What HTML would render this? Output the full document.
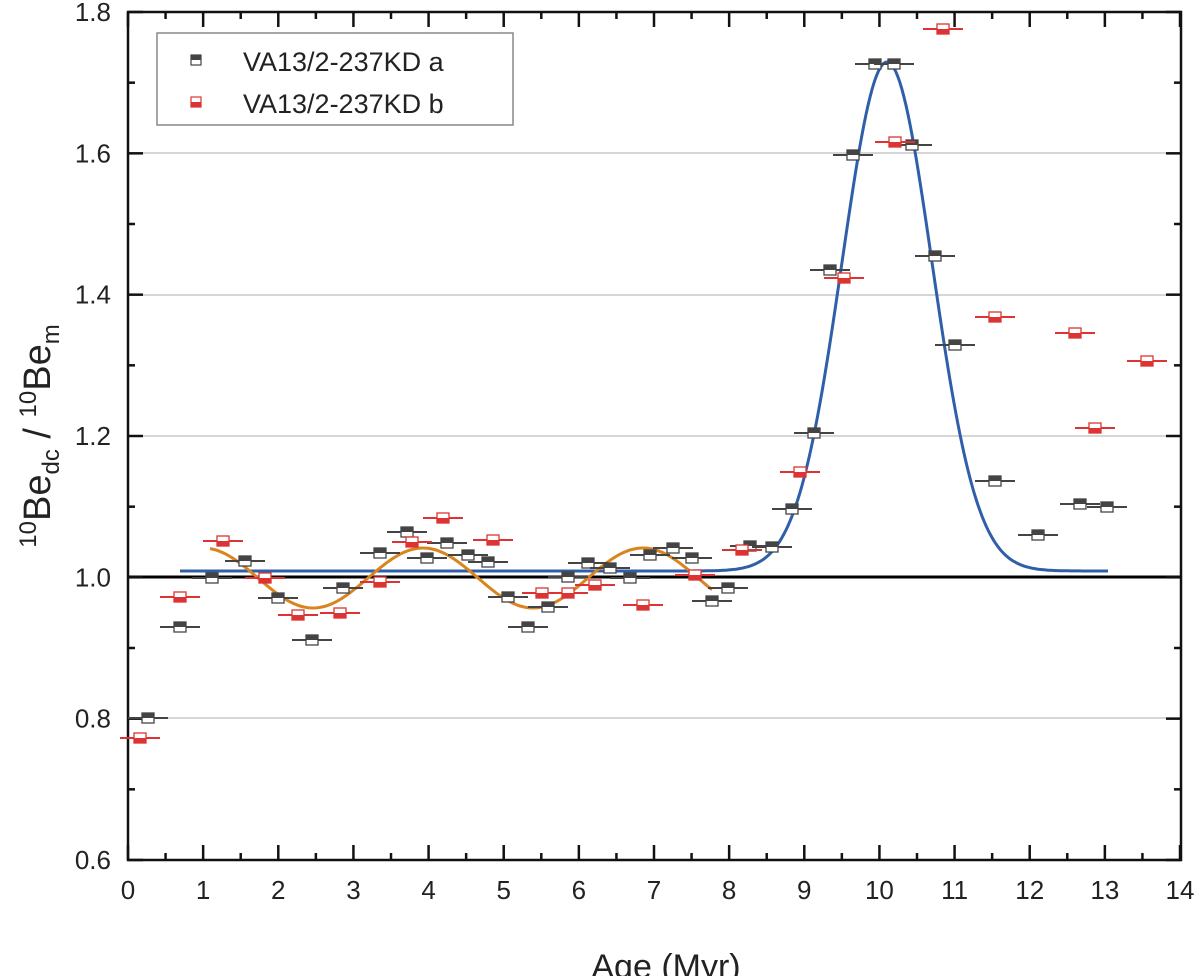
<!DOCTYPE html>
<html><head><meta charset="utf-8"><style>body{margin:0;background:#fff}svg{display:block}text{font-family:"Liberation Sans",Arial,sans-serif}</style></head>
<body>
<svg id="s" width="1200" height="976" viewBox="0 0 1200 976" xmlns="http://www.w3.org/2000/svg">
<g stroke="#c8c8c8" stroke-width="1.5">
<line x1="128" x2="1180" y1="718" y2="718"/><line x1="128" x2="1180" y1="436" y2="436"/>
<line x1="128" x2="1180" y1="295" y2="295"/><line x1="128" x2="1180" y1="153" y2="153"/>
</g>
<line x1="128" x2="1180" y1="577" y2="577" stroke="#000" stroke-width="3"/>
<g id="ticks" stroke="#111" stroke-width="2.5"></g>
<rect x="128" y="12" width="1053" height="848" fill="none" stroke="#111" stroke-width="2.5"/>
<g id="lbl" font-size="26" fill="#222"></g>
<path id="blue" fill="none" stroke="#2f5fa8" stroke-width="3"/>
<path id="orange" fill="none" stroke="#d9841f" stroke-width="3"/>
<g id="pts"></g>
<rect x="157" y="33" width="356" height="92" fill="#fff" stroke="#888" stroke-width="1.5"/>
<rect x="191" y="55" width="10" height="10" fill="#fff" stroke="#444" stroke-width="1.2"/><rect x="191" y="55" width="10" height="5" fill="#444"/>
<rect x="191" y="97" width="10" height="10" fill="#fff" stroke="#d33" stroke-width="1.2"/><rect x="191" y="102" width="10" height="5" fill="#d33"/>
<text x="243" y="71" font-size="27" fill="#222">VA13/2-237KD a</text>
<text x="243" y="113" font-size="27" fill="#222">VA13/2-237KD b</text>
<text x="666" y="978" font-size="34" text-anchor="middle" fill="#222">Age (Myr)</text>
<text transform="translate(50,436) rotate(-90)" font-size="38" text-anchor="middle" fill="#222"><tspan font-size="24" dy="-14">10</tspan><tspan dy="14">Be</tspan><tspan font-size="24" dy="9">dc</tspan><tspan dy="-9"> / </tspan><tspan font-size="24" dy="-14">10</tspan><tspan dy="14">Be</tspan><tspan font-size="24" dy="9">m</tspan></text>
</svg>
<script>
var NS="http://www.w3.org/2000/svg";function el(p,t,a){var e=document.createElementNS(NS,t);for(var k in a)e.setAttribute(k,a[k]);p.appendChild(e);return e;}
var tk=document.getElementById('ticks'),lb=document.getElementById('lbl');
for(var i=0;i<=28;i++){var x=128+i*1052/28,L=i%2?7:15;el(tk,'line',{x1:x,x2:x,y1:860,y2:860-L});el(tk,'line',{x1:x,x2:x,y1:12,y2:12+L});if(i%2==0){var t=el(lb,'text',{x:x,y:899,'text-anchor':'middle'});t.textContent=i/2;}}
for(var i=0;i<=12;i++){var y=860-i*848/12,L=i%2?7:15;el(tk,'line',{x1:128,x2:128+L,y1:y,y2:y});el(tk,'line',{x1:1181,x2:1181-L,y1:y,y2:y});if(i%2==0){var t=el(lb,'text',{x:111,y:y+9,'text-anchor':'end'});t.textContent=(0.6+i*0.1).toFixed(1);}}
var d='';for(var x=180;x<=1108;x+=2){var y=571-509*Math.exp(-Math.pow(x-887,2)/(2*45*45));d+=(x==180?'M':'L')+x+' '+y.toFixed(1);}document.getElementById('blue').setAttribute('d',d);
d='';for(var x=210;x<=712;x+=2){var y=578+30*Math.cos(2*Math.PI*(x-313)/220);d+=(x==210?'M':'L')+x+' '+y.toFixed(1);}document.getElementById('orange').setAttribute('d',d);
var K=[[148,718],[180,627],[212,578],[245,561],[278,598],[312,640],[343,588],[380,553],[407,532],[427,558],[447,543],[468,555],[488,562],[508,597],[528,627],[548,607],[568,577],[588,563],[610,568],[630,578],[650,555],[673,548],[692,558],[712,601],[728,588],[750,546],[772,547],[792,509],[814,433],[830,270],[853,155],[875,64],[894,64],[912,145],[935,256],[955,345],[995,481],[1038,535],[1080,504],[1107,507]];
var R=[[140,738],[180,597],[223,541],[265,578],[298,615],[340,613],[380,582],[412,542],[443,518],[493,540],[542,593],[568,593],[595,585],[643,605],[695,575],[742,550],[800,472],[844,278],[895,142],[943,29],[995,317],[1075,333],[1095,428],[1147,361]];
var g=document.getElementById('pts');
function m(p,c,top){el(g,'line',{x1:p[0]-20,x2:p[0]+20,y1:p[1],y2:p[1],stroke:c,'stroke-width':2});el(g,'rect',{x:p[0]-6,y:p[1]-5,width:12,height:10,fill:'#fff',stroke:c,'stroke-width':1.3});el(g,'rect',{x:p[0]-6,y:top?p[1]-5:p[1],width:12,height:5,fill:c});}
K.forEach(function(p){m(p,'#444',true)});R.forEach(function(p){m(p,'#d33',false)});
</script>
</body></html>
